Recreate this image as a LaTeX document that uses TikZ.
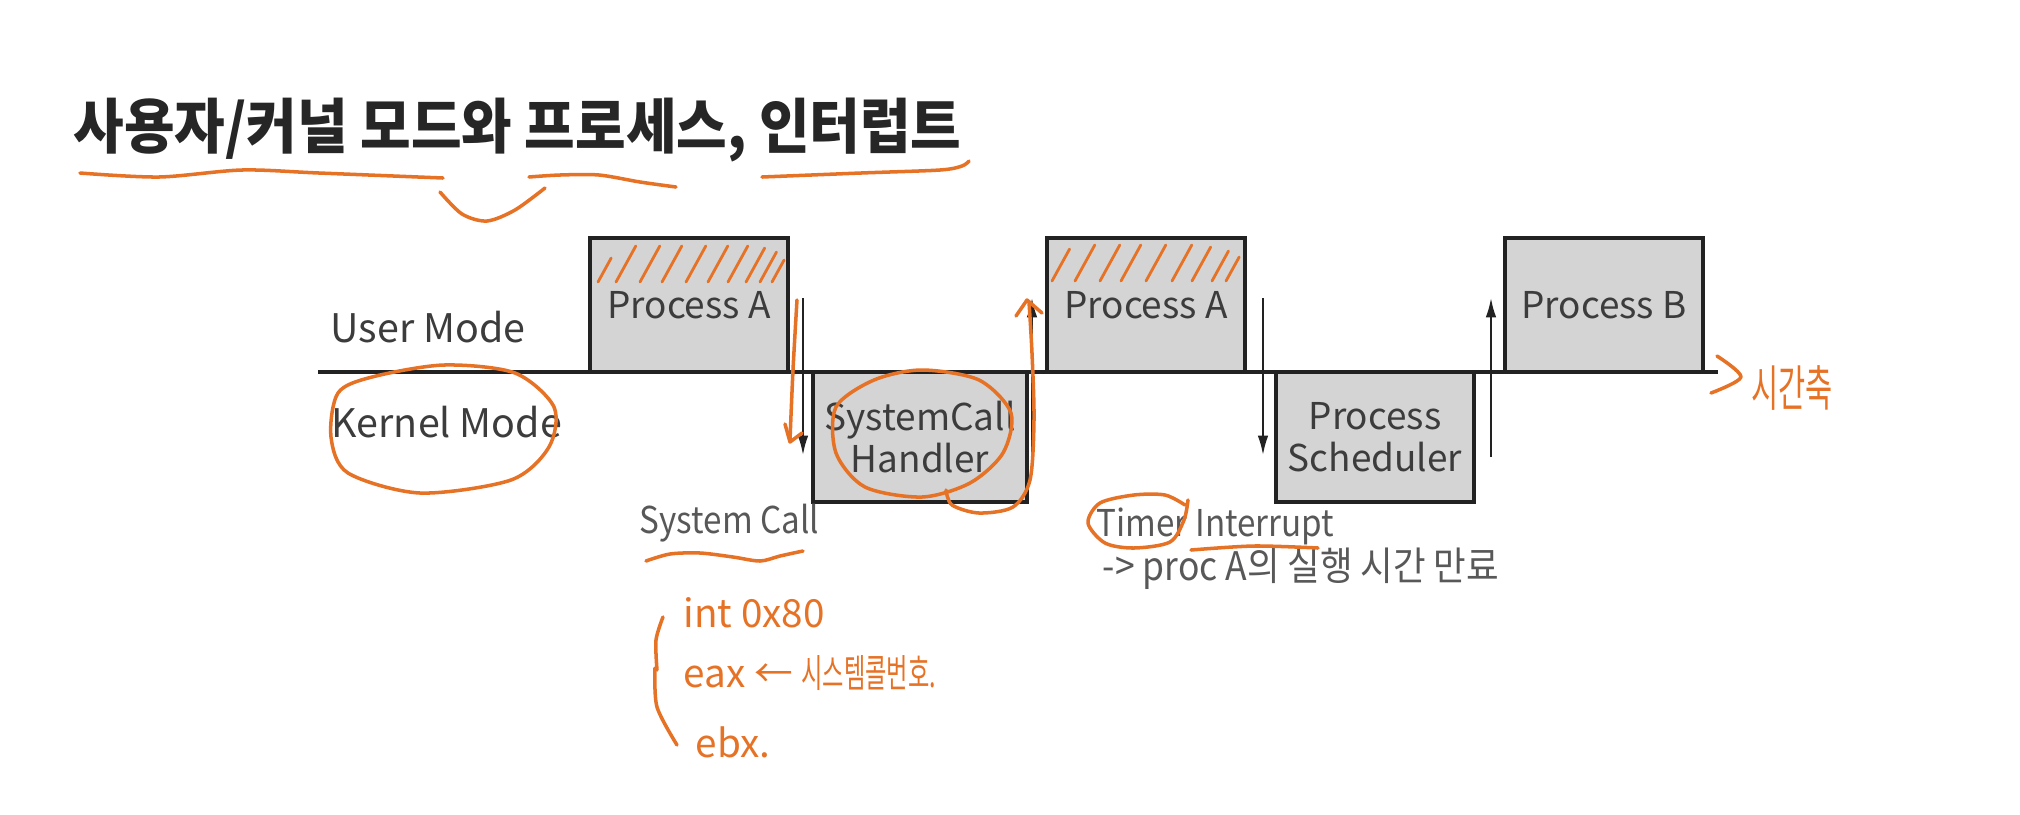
\documentclass[tikz,border=0pt]{standalone}
\usepackage{fontspec}
\usetikzlibrary{arrows.meta}
\setmainfont{Noto Sans CJK KR}
\newfontfamily\titlefont[FakeStretch=0.92]{Noto Sans CJK KR}
\newfontfamily\narrowfont[FakeStretch=0.9]{Noto Sans CJK KR}
\newfontfamily\handkr[FakeStretch=0.6]{Noto Sans CJK KR}
\definecolor{boxgray}{RGB}{212,212,212}
\definecolor{linegray}{RGB}{34,34,34}
\definecolor{textgray}{RGB}{60,60,60}
\definecolor{softgray}{RGB}{88,88,88}
\definecolor{hlorange}{RGB}{230,114,38}

\begin{document}
\begin{tikzpicture}[x=0.01cm,y=-0.01cm,>={Latex[length=5.5pt,width=3pt]},
  modebox/.style={draw=linegray,line width=1pt,fill=boxgray,minimum width=1.98cm,align=center,text=textgray,font=\fontsize{10.5}{12}\selectfont},
  upper/.style={modebox,minimum height=1.34cm},
  lower/.style={modebox,minimum height=1.30cm},
  lbl/.style={anchor=base west,inner sep=0pt,text=textgray,font=\fontsize{11.2}{14}\selectfont},
  note/.style={anchor=base west,inner sep=0pt,text=softgray,font=\narrowfont\fontsize{10.5}{13}\selectfont},
  flow/.style={->,draw=linegray,line width=0.55pt},
  ink/.style={draw=hlorange,line width=1pt,line cap=round,line join=round},
  inktext/.style={anchor=base west,inner sep=0pt,text=hlorange,font=\fontsize{11}{13}\selectfont}]
\useasboundingbox (0,0) rectangle (2020,814);

\node[anchor=west,inner sep=0pt,text=black!85,font=\titlefont\bfseries\fontsize{17}{20}\selectfont] (title) at (73,130) {사용자/커널 모드와 프로세스, 인터럽트};

\coordinate (t0) at (318,372);
\coordinate (t1) at (1718,372);
\draw[draw=linegray,line width=1pt] (t0) -- (t1);

\node[upper] (pa1) at (689,305) {Process A};
\node[lower] (sch) at (920,437) {SystemCall\\Handler};
\node[upper] (pa2) at (1146,305) {Process A};
\node[lower] (ps) at (1375,437) {Process\\Scheduler};
\node[upper] (pb) at (1604,305) {Process B};

\coordinate (d1a) at (803,298);
\coordinate (d1b) at (803,455);
\coordinate (u1a) at (1032,455);
\coordinate (u1b) at (1032,298);
\coordinate (d2a) at (1263,298);
\coordinate (d2b) at (1263,455);
\coordinate (u2a) at (1491,457);
\coordinate (u2b) at (1491,298);
\draw[flow] (d1a) -- (d1b);
\draw[flow] (u1a) -- (u1b);
\draw[flow] (d2a) -- (d2b);
\draw[flow] (u2a) -- (u2b);

\node[lbl] (um) at (330,342) {User Mode};
\node[lbl] (km) at (331,437) {Kernel Mode};
\node[note] (sc) at (639,533) {System Call};
\node[note] (ti) at (1096,536) {Timer Interrupt};
\node[note,font=\narrowfont\fontsize{11.2}{13}\selectfont] (exp) at (1102,580) {-> proc A의 실행 시간 만료};

% pen notes
\draw[ink] plot[smooth] coordinates {(80,173) (159,177) (242,170) (319,173) (443,178)};
\draw[ink] plot[smooth] coordinates {(440,192) (462,214) (487,221) (515,210) (545,188)};
\draw[ink] plot[smooth] coordinates {(529,177) (560,175) (599,175) (640,182) (676,187)};
\draw[ink] plot[smooth] coordinates {(762,177) (861,173) (940,170) (962,166) (969,161)};

\foreach \x/\h in {598/24,616/36,640/36,662/36,686/36,708/36,728/36,746/34,760/30,772/22}
  \draw[ink,line width=0.8pt] (\x,282) -- ++({0.55*\h},{-\h});
\foreach \x/\h in {1052/32,1075/36,1100/36,1121/36,1146/36,1172/36,1192/34,1212/30,1226/24}
  \draw[ink,line width=0.8pt] (\x,281) -- ++({0.55*\h},{-\h});

\draw[ink] plot[smooth cycle] coordinates {(338,393) (372,377) (444,365) (515,373) (554,407) (549,447) (511,480) (420,493) (348,473) (331,437)};
\draw[ink] plot[smooth cycle] coordinates {(836,407) (874,380) (922,370) (979,380) (1011,413) (1003,453) (970,483) (922,497) (865,487) (836,453)};
\draw[ink] plot[smooth] coordinates {(946,490) (952,505) (979,513) (1013,507) (1030,480) (1034,420) (1032,353) (1029,302)};
\draw[ink] (1016,316) -- (1027,300) -- (1042,313);
\draw[ink] plot[smooth] coordinates {(797,300) (793,370) (790,440)};
\draw[ink] (785,424) -- (790,442) -- (802,433);

\draw[ink] plot[smooth] coordinates {(1185,505) (1165,495) (1134,495) (1100,503) (1088,523) (1105,543) (1134,548) (1170,542) (1184,520) (1188,500)};
\draw[ink] plot[smooth] coordinates {(1191,550) (1254,546) (1318,548)};
\draw[ink] plot[smooth] coordinates {(646,561) (670,554) (700,553) (733,557) (760,561) (780,556) (803,551)};

\draw[ink] plot[smooth] coordinates {(663,617) (656,640) (657,670)};
\draw[ink] plot[smooth] coordinates {(655,668) (657,707) (677,745)};
\node[inktext] (int) at (683,627) {int 0x80};
\node[inktext] (eax) at (683,687) {eax ← {\handkr\fontsize{11}{13}\selectfont 시스템콜번호.}};
\node[inktext] (ebx) at (695,757) {ebx.};

\draw[ink] plot[smooth] coordinates {(1717,356) (1741,377) (1711,393)};
\node[text=hlorange,inner sep=0pt,font=\handkr\fontsize{14}{16}\selectfont] (tax) at (1792,388) {시간축};
\end{tikzpicture}
\end{document}
